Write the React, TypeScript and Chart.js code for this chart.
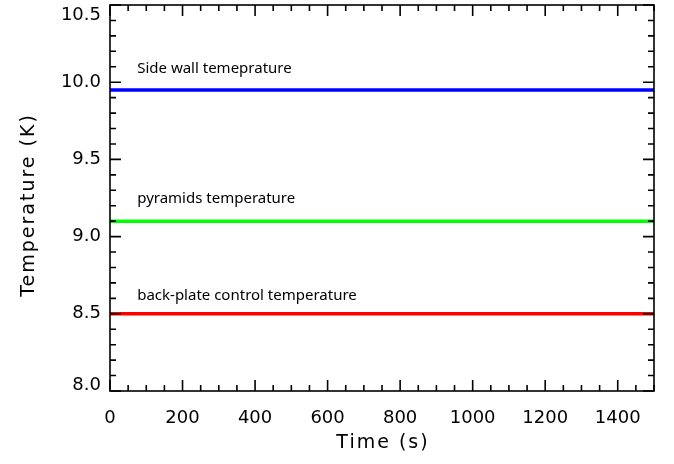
import React, { useEffect, useRef } from "react";
import { Chart, registerables } from "chart.js";

Chart.register(...registerables);

// ---- data ----
const timeSec = [0, 1500];
const sideWallK = [9.95, 9.95];
const pyramidsK = [9.1, 9.1];
const backPlateK = [8.5, 8.5];

const seriesLabels = ["Side wall temeprature", "pyramids temperature", "back-plate control temperature"];
const seriesColors = ["#0000ff", "#00ff00", "#ff0000"];
const labelX = [75, 75, 75];
const labelY = [10.06, 9.22, 8.59];

const xTicks = [0, 200, 400, 600, 800, 1000, 1200, 1400];
const yTicks = [8.0, 8.5, 9.0, 9.5, 10.0, 10.5];
const xMinorStep = 50;
const yMinorStep = 0.1;
const xRange = [0, 1500];
const yRange = [8.0, 10.5];

const xTitle = "Time (s)";
const yTitle = "Temperature (K)";

const FONT = "'DejaVu Sans', sans-serif";

const framePlugin = {
  id: "idlFrame",
  afterDraw(chart: any) {
    const { ctx, chartArea } = chart;
    const { left, right, top, bottom } = chartArea;
    const xs = chart.scales.x;
    const ys = chart.scales.y;
    ctx.save();
    ctx.strokeStyle = "#000";
    ctx.lineWidth = 1.6;
    ctx.strokeRect(left, top, right - left, bottom - top);
    ctx.beginPath();
    // x ticks (inward, bottom and top)
    for (let v = xRange[0]; v <= xRange[1] + 1e-6; v += xMinorStep) {
      const major = xTicks.some((t) => Math.abs(t - v) < 1e-6);
      const len = major ? 11 : 6;
      const px = xs.getPixelForValue(v);
      ctx.moveTo(px, bottom);
      ctx.lineTo(px, bottom - len);
      ctx.moveTo(px, top);
      ctx.lineTo(px, top + len);
    }
    // y ticks (inward, left and right)
    const n = Math.round((yRange[1] - yRange[0]) / yMinorStep);
    for (let i = 0; i <= n; i++) {
      const v = yRange[0] + i * yMinorStep;
      const major = yTicks.some((t) => Math.abs(t - v) < 1e-6);
      const len = major ? 11 : 6;
      const py = ys.getPixelForValue(v);
      ctx.moveTo(left, py);
      ctx.lineTo(left + len, py);
      ctx.moveTo(right, py);
      ctx.lineTo(right - len, py);
    }
    ctx.stroke();

    // y tick labels (IDL style, kept inside the frame height)
    ctx.fillStyle = "#000";
    ctx.font = "18px " + FONT;
    ctx.textAlign = "right";
    ctx.textBaseline = "middle";
    yTicks.forEach((v) => {
      const py = Math.min(Math.max(ys.getPixelForValue(v), top + 10), bottom - 6);
      ctx.fillText(v.toFixed(1), left - 9, py);
    });

    // annotations
    ctx.font = "15px 'Noto Sans', sans-serif";
    ctx.textAlign = "left";
    ctx.textBaseline = "alphabetic";
    seriesLabels.forEach((t, i) => {
      ctx.fillText(t, xs.getPixelForValue(labelX[i]), ys.getPixelForValue(labelY[i]));
    });

    // axis titles
    (ctx as any).letterSpacing = "2px";
    ctx.font = "19px " + FONT;
    ctx.textAlign = "center";
    ctx.textBaseline = "middle";
    ctx.fillText(xTitle, (left + right) / 2 + 1, 443);
    ctx.translate(29, 205);
    ctx.rotate(-Math.PI / 2);
    ctx.fillText(yTitle, 0, 0);
    ctx.restore();
  },
};

export default function App() {
  const ref = useRef<HTMLCanvasElement>(null);
  useEffect(() => {
    const chart = new Chart(ref.current!, {
      type: "line",
      data: {
        datasets: [sideWallK, pyramidsK, backPlateK].map((vals, i) => ({
          label: seriesLabels[i],
          data: timeSec.map((t, j) => ({ x: t, y: vals[j] })),
          borderColor: seriesColors[i],
          backgroundColor: seriesColors[i],
          borderWidth: 3.5,
          pointRadius: 0,
          fill: false,
        })),
      },
      options: {
        animation: false,
        responsive: false,
        maintainAspectRatio: false,
        layout: { padding: { top: 5, right: 20, left: 0, bottom: 0 } },
        plugins: { legend: { display: false }, tooltip: { enabled: false } },
        scales: {
          x: {
            type: "linear",
            min: xRange[0],
            max: xRange[1],
            afterBuildTicks: (s: any) => {
              s.ticks = xTicks.map((v) => ({ value: v }));
            },
            afterFit: (s: any) => {
              s.height = 73;
              s.paddingLeft = 0;
              s.paddingRight = 0;
            },
            grid: { display: false, drawTicks: false },
            border: { display: false },
            ticks: {
              autoSkip: false,
              maxRotation: 0,
              padding: 17,
              color: "#000",
              font: { family: FONT, size: 18 },
              callback: (v: any) => String(v),
            },
          },
          y: {
            type: "linear",
            min: yRange[0],
            max: yRange[1],
            afterBuildTicks: (s: any) => {
              s.ticks = yTicks.map((v) => ({ value: v }));
            },
            afterFit: (s: any) => {
              s.width = 110;
              s.paddingTop = 0;
              s.paddingBottom = 0;
            },
            grid: { display: false, drawTicks: false },
            border: { display: false },
            ticks: { display: false },
          },
        },
      },
      plugins: [framePlugin],
    });
    return () => chart.destroy();
  }, []);
  return (
    <div style={{ position: "fixed", left: 0, top: 0, width: 674, height: 464, background: "#fff" }}>
      <canvas ref={ref} width={674} height={464} style={{ width: 674, height: 464 }} />
    </div>
  );
}
